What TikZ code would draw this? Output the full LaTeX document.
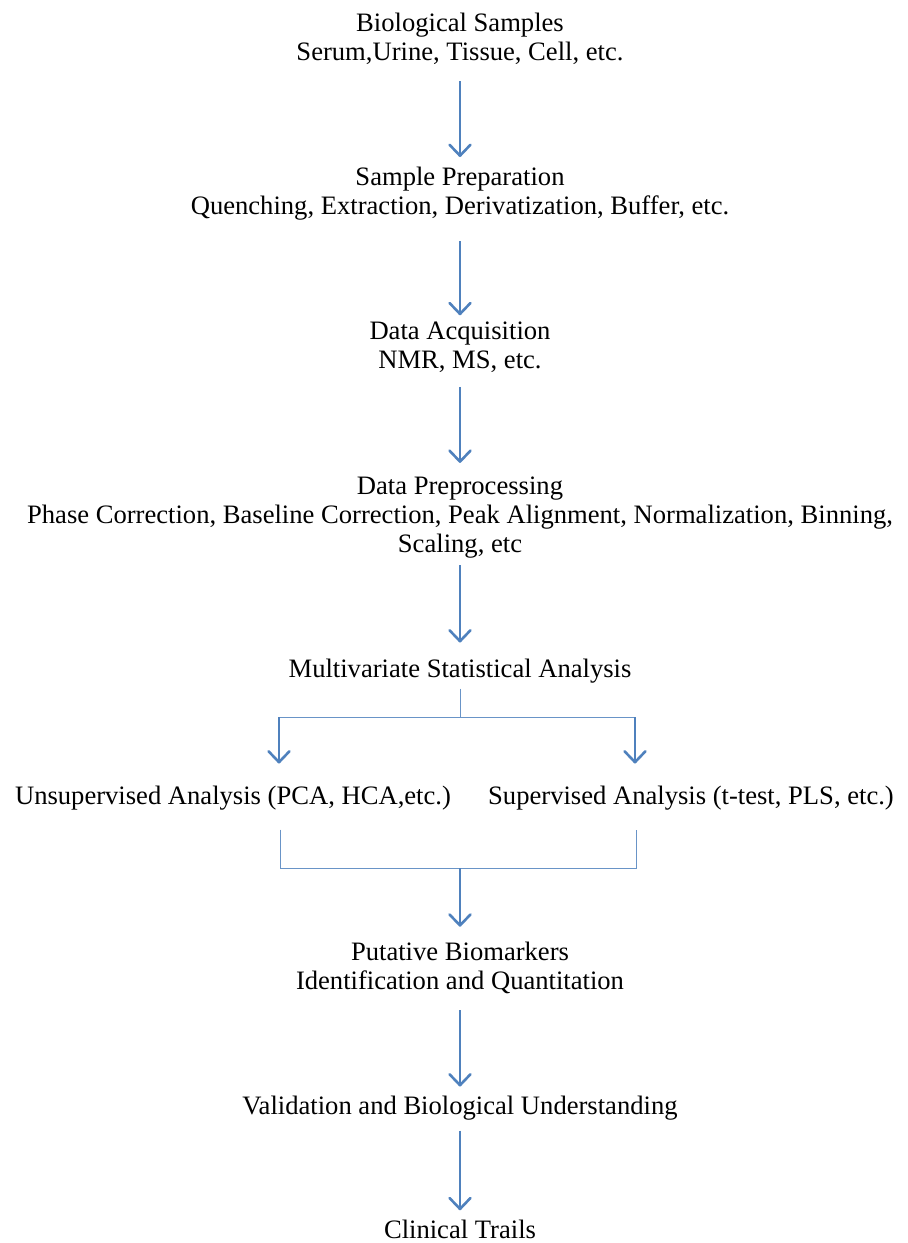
\documentclass[tikz,border=0pt]{standalone}
\usepackage{fontspec}
\setmainfont{Liberation Serif}
\usetikzlibrary{calc}
\usetikzlibrary{arrows.meta}

\definecolor{flowblue}{RGB}{79,129,189}

\tikzset{
  txt/.style={align=center, inner sep=0pt, font=\fontsize{13.3}{14.5}\selectfont},
  flow/.style={flowblue, line width=1.3pt, -{Straight Barb[length=5.5pt,width=10.5pt,round]}},
  thin/.style={flowblue!85!white, line width=0.5pt}
}

\begin{document}
\begin{tikzpicture}[x=0.5pt,y=-0.5pt]

\useasboundingbox (0,0) rectangle (907,1243);

\node[txt] (bio) at (460,39) {Biological Samples\\Serum,Urine, Tissue, Cell, etc.};
\node[txt] (prep) at (460,194) {Sample Preparation\\Quenching, Extraction, Derivatization, Buffer, etc.};
\node[txt] (acq) at (460,347) {Data Acquisition\\NMR, MS, etc.};
\node[txt] (preproc) at (460,518) {Data Preprocessing\\Phase Correction, Baseline Correction, Peak Alignment, Normalization, Binning,\\Scaling, etc};
\node[txt] (multi) at (460,671) {Multivariate Statistical Analysis};
\node[txt] (unsup) at (233,798) {Unsupervised Analysis (PCA, HCA,etc.)};
\node[txt] (sup) at (691,798) {Supervised Analysis (t-test, PLS, etc.)};
\node[txt] (puta) at (460,968) {Putative Biomarkers\\Identification and Quantitation};
\node[txt] (valid) at (460,1108) {Validation and Biological Understanding};
\node[txt] (clin) at (460,1229) {Clinical Trails};

\coordinate (split) at (460,717);
\coordinate (splitL) at (279,717);
\coordinate (splitR) at (635,717);
\coordinate (join) at (460,868);
\coordinate (joinL) at (280,868);
\coordinate (joinR) at (636,868);

% main line
\draw[flow, shorten <=8pt, shorten >=5pt] (bio) -- (prep);
\draw[flow, shorten <=10pt, shorten >=3pt] (prep) -- (acq);
\draw[flow, shorten <=7pt, shorten >=7pt] (acq) -- (preproc);
\draw[flow, shorten <=3pt, shorten >=8pt] (preproc) -- (multi);

% split into the two analyses
\draw[thin, shorten <=2.5pt] (multi) -- (split);
\draw[thin] (splitL) -- (splitR);
\draw[flow, shorten >=11pt] (splitL) -- (splitL |- unsup.north);
\draw[flow, shorten >=11pt] (splitR) -- (splitR |- sup.north);

% join again
\draw[thin, shorten <=9.5pt] (joinL |- unsup.south) -- (joinL) -- (joinR) -- (joinR |- sup.south) [shorten >=9.5pt];
\draw[flow, shorten >=7.5pt] (join) -- (puta);

\draw[flow, shorten <=8pt, shorten >=4.5pt] (puta) -- (valid);
\draw[flow, shorten <=5pt, shorten >=4.5pt] (valid) -- (clin);

\end{tikzpicture}
\end{document}
